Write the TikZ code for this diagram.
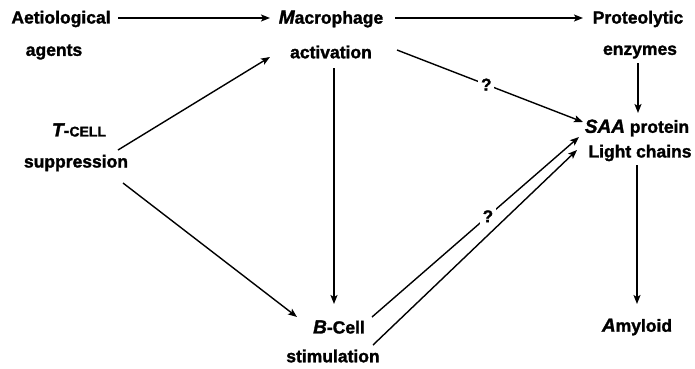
\documentclass[tikz,border=0pt]{standalone}
\usepackage{fontspec}
\setmainfont{Liberation Sans}[BoldFeatures={FakeBold=1.6},BoldItalicFeatures={FakeBold=1.6}]
\usetikzlibrary{arrows.meta,calc}
\begin{document}
\begin{tikzpicture}[x=1pt,y=-1pt,
  lbl/.style={inner sep=0pt,font=\fontsize{17.5}{18}\selectfont\bfseries},
  conn/.style={line width=1.4pt,-{Stealth[length=9pt,width=7pt,inset=2pt]}},
  qm/.style={fill=white,inner sep=3pt,font=\fontsize{17}{17}\selectfont\bfseries}]
\useasboundingbox (0,0) rectangle (695,368);
\newcommand{\ic}[1]{{\itshape\fontsize{19}{19}\selectfont #1}}
\node[lbl] (aet) at (61,19) {Aetiological};
\node[lbl] (agt) at (54,52) {agents};
\node[lbl] (mac) at (331,19) {\ic{M}acrophage};
\node[lbl] (act) at (331,52) {activation};
\node[lbl] (prot) at (638,19) {Proteolytic};
\node[lbl] (enz) at (640,52) {enzymes};
\node[lbl] (saa) at (637,128) {\ic{SAA} protein};
\node[lbl] (light) at (640,153) {Light chains};
\node[lbl] (amy) at (637,327) {\ic{A}myloid};
\node[lbl] (tcell) at (79,130) {\ic{T}-{\fontsize{14}{14}\selectfont CELL}};
\node[lbl] (supp) at (76,163) {suppression};
\node[lbl] (bcell) at (339,327) {\ic{B}-Cell};
\node[lbl] (stim) at (333,356) {stimulation};
% connectors
\draw[conn] ($(aet)+(57,-1)$) -- ($(mac)+(-61,-1)$);
\draw[conn] ($(mac)+(64,-1)$) -- ($(prot)+(-55,-1)$);
\draw[conn] ($(enz)+(-2,11)$) -- ($(saa)+(1,-15)$);
\draw[conn] ($(light)+(-3,12)$) -- ($(amy)+(0,-23)$);
\draw[conn] ($(act)+(3,16)$) -- ($(bcell)+(-5,-23)$);
\draw[conn] ($(supp)+(42,-13)$) -- ($(act)+(-61,5)$);
\draw[conn] ($(supp)+(47,20)$) -- ($(bcell)+(-42,-10)$);
\draw[conn] ($(act)+(66,-2)$) -- node[qm,pos=0.48] {?} ($(saa)+(-54,-6)$);
\draw[conn] ($(bcell)+(33,-10)$) -- node[qm,pos=0.56] {?} ($(saa)+(-58,9)$);
\draw[conn] ($(stim)+(40,-11)$) -- ($(light)+(-63,-3)$);
\end{tikzpicture}
\end{document}
